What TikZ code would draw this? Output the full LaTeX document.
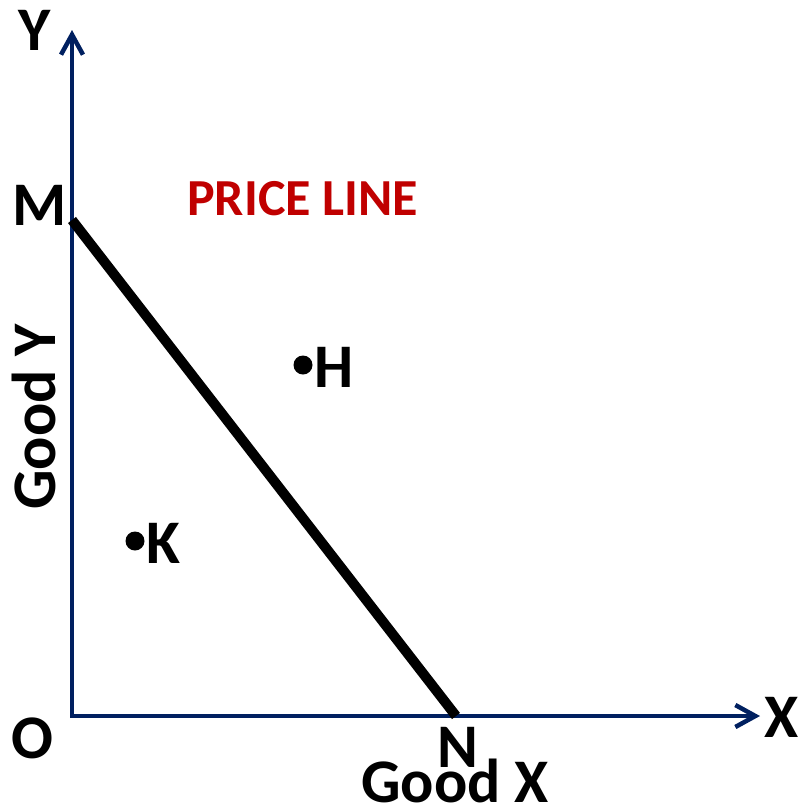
\documentclass[tikz,border=0pt]{standalone}
\usepackage{fontspec}
\setmainfont{Carlito}
\usetikzlibrary{arrows.meta}
\definecolor{axisblue}{RGB}{0,32,96}
\definecolor{pricered}{RGB}{192,0,0}
\begin{document}
\begin{tikzpicture}[x=1pt,y=-1pt,
  axis/.style={draw=axisblue,line width=4.5pt,{Straight Barb[length=20pt,width=22pt,line width=4.5pt]}-{Straight Barb[length=20pt,width=22pt,line width=4.5pt]}},
  budget/.style={draw=black,line width=10pt},
  lbl/.style={inner sep=0pt,anchor=base west,font=\fontsize{62}{62}\selectfont\bfseries},
  pt/.style={fill=black}]
\useasboundingbox (0,0) rectangle (798,807);
\coordinate (Ytip) at (72,30);
\coordinate (O) at (72,716);
\coordinate (Xtip) at (760,716);
\coordinate (M) at (72,220);
\coordinate (N) at (456,716);
\draw[axis] (Ytip) -- (O) -- (Xtip);
\draw[budget] (M) -- (N);
\fill[pt] (303,365) circle (9.5) coordinate (Hpt);
\fill[pt] (135,541) circle (9.5) coordinate (Kpt);
\node[lbl] (ylab) at (18,50) {Y};
\node[lbl] (mlab) at (12,225) {M};
\node[lbl] (olab) at (11,758) {O};
\node[lbl] (nlab) at (437,767) {N};
\node[lbl] (xlab) at (764,737) {X};
\node[lbl] (hlab) at (314,387) {H};
\node[lbl] (klab) at (146,563) {K};
\node[lbl] (goodx) at (361,802) {Good X};
\node[lbl,rotate=90] (goody) at (55,510) {Good Y};
\node[inner sep=0pt,anchor=base west,text=pricered,font=\fontsize{52}{52}\selectfont\bfseries] (price) at (187,215) {PRICE LINE};
\end{tikzpicture}
\end{document}
